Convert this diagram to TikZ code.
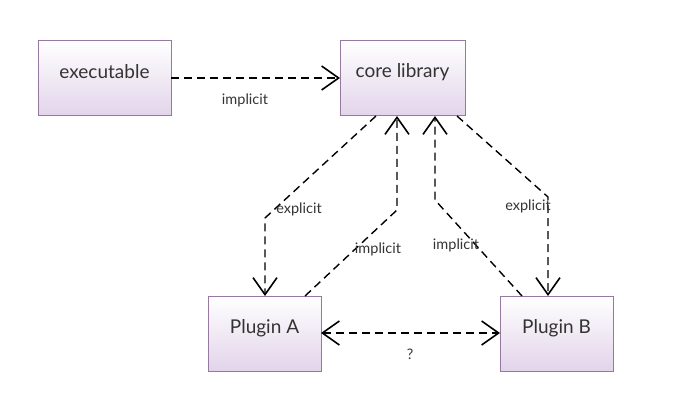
\documentclass[tikz,border=0pt]{standalone}
\usepackage{fontspec}
\setmainfont{Lato}
\usetikzlibrary{arrows.meta}
\definecolor{boxline}{RGB}{150,120,160}
\definecolor{boxbot}{RGB}{226,212,234}
\tikzset{
  comp/.style={draw=boxline, line width=1pt, top color=white, bottom color=boxbot},
  comptext/.style={font=\fontsize{19}{22}\selectfont, text=black!80},
  dep/.style={dashed, dash pattern=on 8pt off 5pt, line width=1.4pt, -{Straight Barb[length=17pt,width=24pt,line width=1.6pt]}},
  bidep/.style={dashed, dash pattern=on 8pt off 5pt, line width=1.4pt, {Straight Barb[length=17pt,width=24pt,line width=1.6pt]}-{Straight Barb[length=17pt,width=24pt,line width=1.6pt]}},
  lbl/.style={font=\fontsize{14.5}{16}\selectfont, text=black!80, inner sep=0pt}
}
\begin{document}
\begin{tikzpicture}[x=1pt,y=-1pt]
\useasboundingbox (0,0) rectangle (673,420);
\path[comp] (38,41) rectangle (171,116);
\node[comptext] (exe) at (104.5,72) {executable};
\path[comp] (340,41) rectangle (465,116);
\node[comptext] (core) at (402.5,72) {core library};
\path[comp] (208,296) rectangle (321,371);
\node[comptext] (pa) at (264.5,328) {Plugin A};
\path[comp] (500,296) rectangle (613,371);
\node[comptext] (pb) at (556.5,328) {Plugin B};
% anchor coordinates
\coordinate (exeR) at (171,78);
\coordinate (coreL) at (340,78);
\coordinate (c1) at (376,116);
\coordinate (b1) at (265,218);
\coordinate (a1) at (265,296);
\coordinate (a2) at (305,296);
\coordinate (b2) at (397,210);
\coordinate (c2) at (397,116);
\coordinate (p1) at (522,296);
\coordinate (b3) at (435,200);
\coordinate (c3) at (435,116);
\coordinate (c4) at (457,116);
\coordinate (b4) at (548,197);
\coordinate (p2) at (548,296);
\coordinate (paR) at (321,333);
\coordinate (pbL) at (500,333);
% connectors
\draw[dep] (exeR) -- (coreL);
\draw[dep] (c1) -- (b1) -- (a1);
\draw[dep] (a2) -- (b2) -- (c2);
\draw[dep] (p1) -- (b3) -- (c3);
\draw[dep] (c4) -- (b4) -- (p2);
\draw[bidep] (paR) -- (pbL);
% labels
\node[lbl] (l1) at (245,100) {implicit};
\node[lbl] (l2) at (299,209) {explicit};
\node[lbl] (l3) at (378,249) {implicit};
\node[lbl] (l4) at (456,245) {implicit};
\node[lbl] (l5) at (528,206) {explicit};
\node[lbl] (l6) at (410,354) {?};
\end{tikzpicture}
\end{document}
